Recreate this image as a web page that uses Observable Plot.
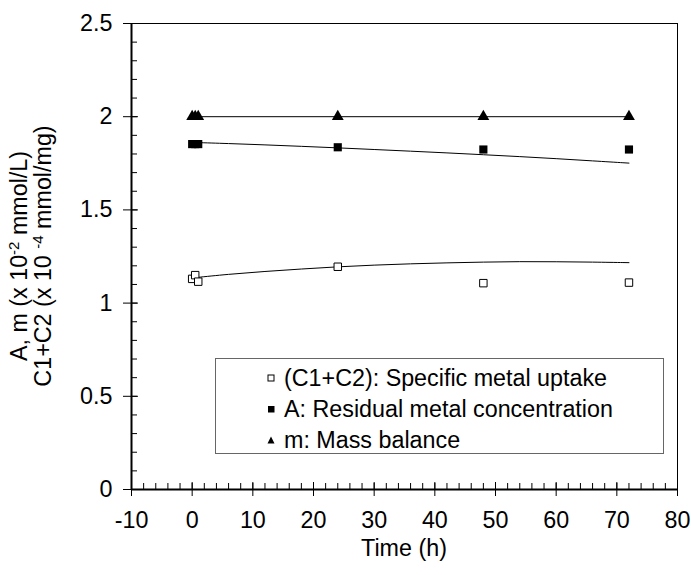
<!DOCTYPE html>
<html>
<head>
<meta charset="utf-8">
<script src="https://cdn.jsdelivr.net/npm/d3@7"></script>
<script src="https://cdn.jsdelivr.net/npm/@observablehq/plot@0.6"></script>
<style>
  html, body { margin: 0; padding: 0; background: white; }
  #wrap { position: relative; width: 691px; height: 575px; font-family: "Liberation Sans", Arial, sans-serif; }
  #legend { position: absolute; left: 215px; top: 358px; width: 447px; height: 94px; border: 1px solid #666; background: white; }
  .row { position: absolute; left: 0; height: 26px; width: 440px; font-size: 23.3px; color: black; white-space: nowrap; }
  .row svg { position: absolute; left: 51px; top: 9px; }
  .row span { position: absolute; left: 68px; top: 0px; line-height: 26px; }
</style>
</head>
<body>
<div id="wrap"><div id="legend"></div></div>
<script>
// Measured points
const times = [0, 0.5, 1, 24, 48, 72];
const uptakeC = [1.13, 1.15, 1.115, 1.195, 1.107, 1.11];        // (C1+C2)
const residualA = [1.853, 1.853, 1.853, 1.836, 1.824, 1.824];   // A
const massM = [2.0, 2.0, 2.0, 2.0, 2.0, 2.0];                   // m

// Fitted curves
const fitT = [0, 6, 12, 18, 24, 30, 36, 42, 48, 54, 60, 66, 72];
const fitC = [1.135, 1.155, 1.17, 1.183, 1.195, 1.204, 1.211, 1.216, 1.22, 1.223, 1.222, 1.22, 1.217];
const fitA = [1.862, 1.856, 1.849, 1.841, 1.833, 1.824, 1.815, 1.806, 1.796, 1.786, 1.775, 1.763, 1.751];
const fitMT = [0, 72];
const fitM = [2.0, 2.0];

// Ticks
const xTicks = [-10, 0, 10, 20, 30, 40, 50, 60, 70, 80];
const yTicks = [0, 0.5, 1, 1.5, 2, 2.5];
const yTickLabels = ["0", "0.5", "1", "1.5", "2", "2.5"];
const xMinor = d3.range(-10, 80.01, 2);
const yMinor = d3.range(0, 2.501, 0.1);

const legendItems = [
  {sym: "open", label: "(C1+C2): Specific metal uptake"},
  {sym: "square", label: "A: Residual metal concentration"},
  {sym: "triangle", label: "m: Mass balance"}
];

const FS = 23.3;
const pts = (ys) => times.map((t, i) => ({t, v: ys[i]}));
const fit = (ts, ys) => ts.map((t, i) => ({t, v: ys[i]}));

const chart = Plot.plot({
  width: 691, height: 575,
  marginLeft: 131, marginRight: 14, marginTop: 23, marginBottom: 86,
  x: {domain: [-10, 80]},
  y: {domain: [0, 2.5]},
  style: {fontFamily: "'Liberation Sans', Arial, sans-serif", fontSize: FS + "px", background: "white", color: "black"},
  marks: [
    Plot.frame({stroke: "black", strokeWidth: 1}),
    Plot.axisX({ticks: xMinor, tickSize: -6, tickFormat: () => "", label: null, stroke: "black"}),
    Plot.axisX({ticks: xTicks, tickSize: 7, tickPadding: 15, tickFormat: d => String(d), label: null, fontSize: FS, stroke: "black", fill: "black"}),
    Plot.axisX({ticks: xTicks, tickSize: -7, tickFormat: () => "", label: null, stroke: "black"}),
    Plot.axisY({ticks: yMinor, tickSize: -6, tickFormat: () => "", label: null, stroke: "black"}),
    Plot.axisY({ticks: yTicks, tickSize: 8, tickPadding: 11, tickFormat: (d, i) => yTickLabels[i], label: null, fontSize: FS, stroke: "black", fill: "black"}),
    Plot.axisY({ticks: yTicks, tickSize: -7, tickFormat: () => "", label: null, stroke: "black"}),
    Plot.ruleX([-10], {stroke: "black", strokeWidth: 2}),
    Plot.ruleY([0], {stroke: "black", strokeWidth: 2}),
    Plot.line(fit(fitT, fitC), {x: "t", y: "v", stroke: "black", strokeWidth: 1, curve: "basis"}),
    Plot.line(fit(fitT, fitA), {x: "t", y: "v", stroke: "black", strokeWidth: 1, curve: "basis"}),
    Plot.line(fit(fitMT, fitM), {x: "t", y: "v", stroke: "black", strokeWidth: 1}),
    Plot.dot(pts(uptakeC), {x: "t", y: "v", symbol: "square", r: 4.2, fill: "white", stroke: "black", strokeWidth: 1}),
    Plot.dot(pts(residualA), {x: "t", y: "v", symbol: "square", r: 4.6, fill: "black", stroke: "none"}),
    Plot.dot(pts(massM), {x: "t", y: "v", symbol: "triangle", r: 4.4, fill: "black", stroke: "none"})
  ]
});

const svg = d3.select(chart);
// x axis title
svg.append("text")
  .attr("x", 404).attr("y", 556)
  .attr("text-anchor", "middle")
  .attr("font-size", FS).attr("fill", "black")
  .text("Time (h)");

// y axis title, two lines
function yTitle(x, parts) {
  const t = svg.append("text")
    .attr("transform", `translate(${x},256) rotate(-90)`)
    .attr("text-anchor", "middle")
    .attr("font-size", FS).attr("fill", "black");
  parts.forEach(p => {
    const s = t.append("tspan").text(p.text);
    if (p.sup) s.attr("baseline-shift", "super").attr("font-size", 15);
  });
}
yTitle(27, [{text: "A, m (x 10"}, {text: "-2", sup: true}, {text: " mmol/L)"}]);
yTitle(51, [{text: "C1+C2 (x 10 "}, {text: "-4", sup: true}, {text: " mmol/mg)"}]);

const wrap = document.getElementById("wrap");
wrap.insertBefore(chart, wrap.firstChild);
chart.style.position = "absolute";
chart.style.left = "0";
chart.style.top = "0";

// legend
const legend = d3.select("#legend");
legendItems.forEach((it, i) => {
  const row = legend.append("div").attr("class", "row").style("top", (6 + i * 31) + "px");
  const s = row.append("svg").attr("width", 8).attr("height", 8).attr("viewBox", "0 0 8 8");
  if (it.sym === "open") s.append("rect").attr("x", 1).attr("y", 1).attr("width", 6).attr("height", 6).attr("fill", "white").attr("stroke", "black").attr("stroke-width", 1);
  else if (it.sym === "square") s.append("rect").attr("x", 1).attr("y", 1).attr("width", 6.5).attr("height", 6.5).attr("fill", "black");
  else s.append("path").attr("d", "M4,0.5L7.5,7.5L0.5,7.5Z").attr("fill", "black");
  row.append("span").text(it.label);
});
</script>
</body>
</html>
